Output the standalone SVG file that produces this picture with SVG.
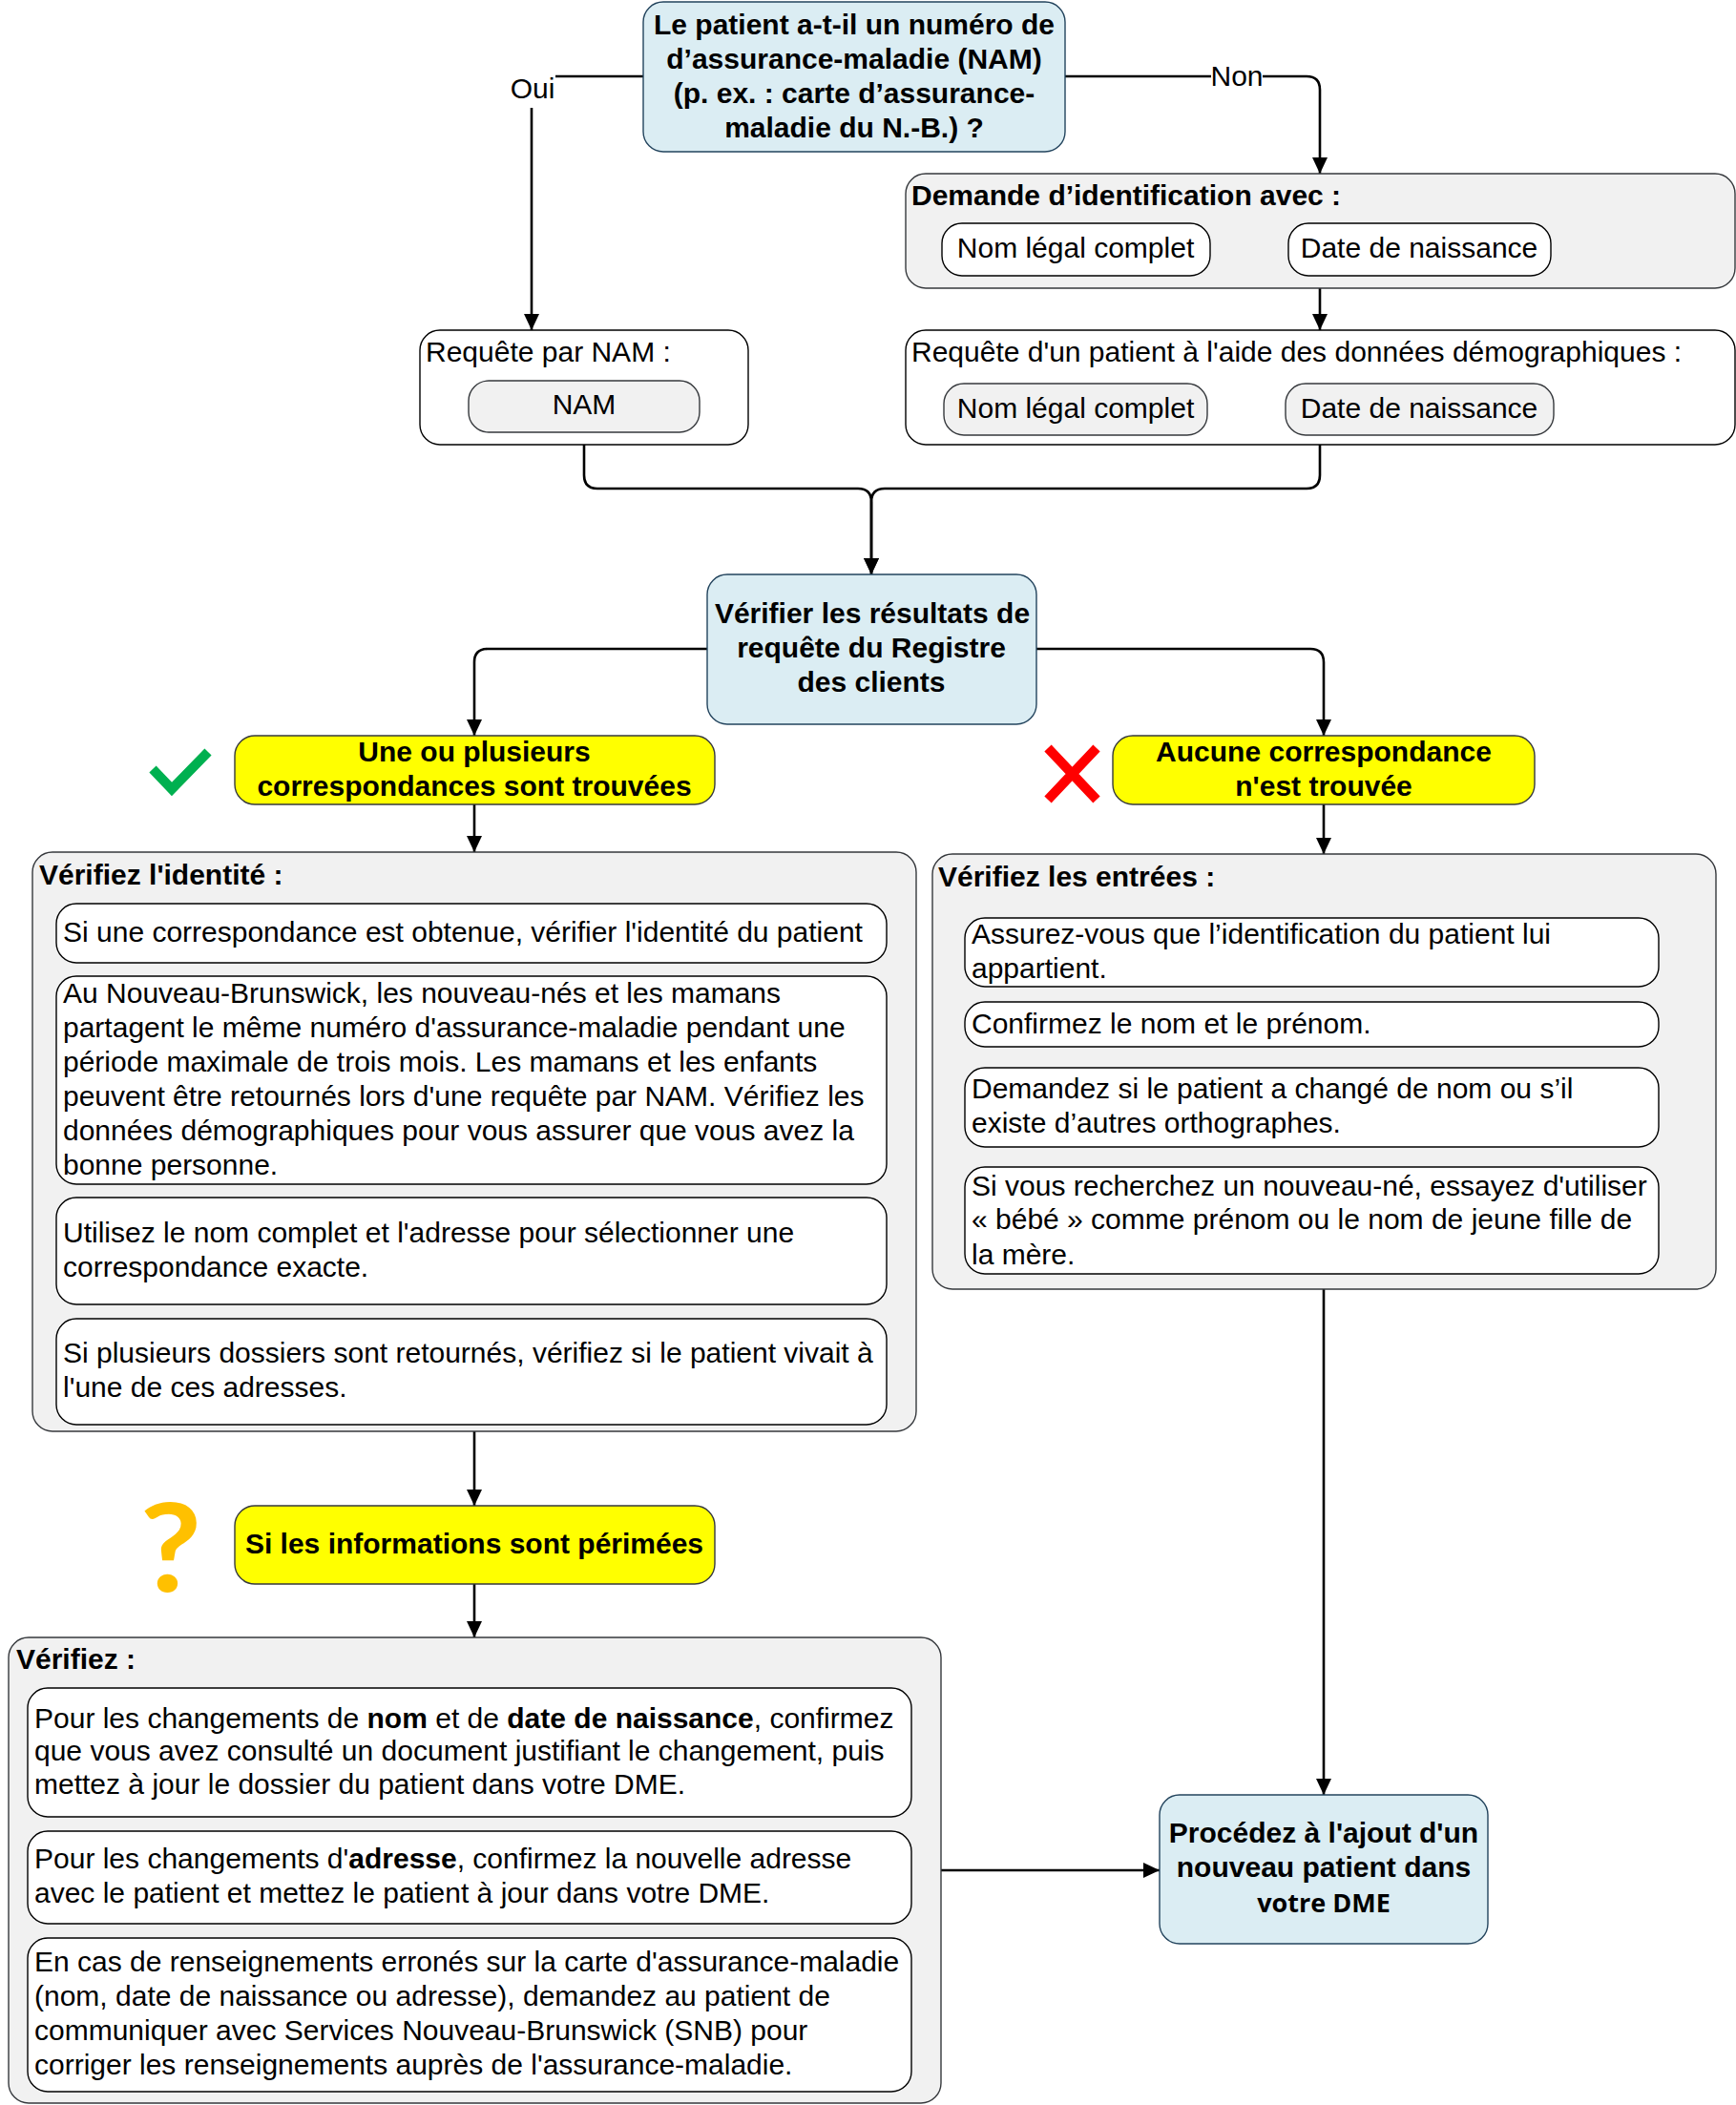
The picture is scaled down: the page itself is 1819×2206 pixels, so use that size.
<svg xmlns="http://www.w3.org/2000/svg" width="1819" height="2206" viewBox="0 0 1819 2206">
<style>
text{font-family:"Liberation Sans",Arial,sans-serif;font-size:30px;fill:#000}
.b{font-weight:bold}
.c{text-anchor:middle}
.blue{fill:#dbedf3;stroke:#23445d;stroke-width:1.4}
.gray{fill:#f1f1f1;stroke:#36393d;stroke-width:1.4}
.white{fill:#fff;stroke:#000;stroke-width:1.4}
.yel{fill:#ffff00;stroke:#36393d;stroke-width:1.4}
.con{fill:none;stroke:#000;stroke-width:2.6}
</style>
<defs><marker id="a" markerUnits="userSpaceOnUse" markerWidth="17" markerHeight="18" refX="17" refY="9" orient="auto"><path d="M0 1L17 9L0 17Z" fill="#000"/></marker></defs>
<g id="connectors">
<path class="con" d="M674 80H581Q557 80 557 104V346" marker-end="url(#a)"/>
<path class="con" d="M1116 80H1369Q1383 80 1383 94V182" marker-end="url(#a)"/>
<path class="con" d="M1383 302V346" marker-end="url(#a)"/>
<path class="con" d="M612 466V498Q612 512 626 512H899Q913 512 913 526V602" marker-end="url(#a)"/>
<path class="con" d="M1383 466V498Q1383 512 1369 512H927Q913 512 913 526V602" marker-end="url(#a)"/>
<path class="con" d="M741 680H511Q497 680 497 694V771" marker-end="url(#a)"/>
<path class="con" d="M1086 680H1373Q1387 680 1387 694V771" marker-end="url(#a)"/>
<path class="con" d="M497 843V893" marker-end="url(#a)"/>
<path class="con" d="M1387 843V895" marker-end="url(#a)"/>
<path class="con" d="M497 1500V1578" marker-end="url(#a)"/>
<path class="con" d="M497 1660V1716" marker-end="url(#a)"/>
<path class="con" d="M1387 1351V1881" marker-end="url(#a)"/>
<path class="con" d="M985 1960H1215" marker-end="url(#a)"/>
<rect x="534" y="76" width="48" height="37" fill="#fff"/>
<rect x="1269" y="62" width="54" height="36" fill="#fff"/>
<text x="558" y="103" class="c">Oui</text>
<text x="1296" y="90" class="c">Non</text>
</g>
<g id="n-question"><rect class="blue" x="674" y="2" width="442" height="157" rx="21"/>
<text class="b c" x="895" y="36">Le patient a-t-il un numéro de</text><text class="b c" x="895" y="72">d’assurance-maladie (NAM)</text><text class="b c" x="895" y="108">(p. ex. : carte d’assurance-</text><text class="b c" x="895" y="144">maladie du N.-B.) ?</text></g>
<g id="n-demande"><rect class="gray" x="949" y="182" width="869" height="120" rx="21"/>
<text class="b" x="955" y="215">Demande d’identification avec :</text>
<rect class="white" x="987" y="234" width="281" height="55" rx="21"/><text class="c" x="1127" y="270">Nom légal complet</text>
<rect class="white" x="1350" y="234" width="275" height="55" rx="21"/><text class="c" x="1487" y="270">Date de naissance</text></g>
<g id="n-requete-nam"><rect class="white" x="440" y="346" width="344" height="120" rx="21"/>
<text x="446" y="379">Requête par NAM :</text>
<rect class="gray" x="491" y="399" width="242" height="54" rx="21"/><text class="c" x="612" y="434">NAM</text></g>
<g id="n-requete-demo"><rect class="white" x="949" y="346" width="869" height="120" rx="21"/>
<text x="955" y="379">Requête d'un patient à l'aide des données démographiques :</text>
<rect class="gray" x="989" y="402" width="276" height="54" rx="21"/><text class="c" x="1127" y="438">Nom légal complet</text>
<rect class="gray" x="1347" y="402" width="281" height="54" rx="21"/><text class="c" x="1487" y="438">Date de naissance</text></g>
<g id="n-verifier"><rect class="blue" x="741" y="602" width="345" height="157" rx="21"/>
<text class="b c" x="914" y="653">Vérifier les résultats de</text><text class="b c" x="913" y="689">requête du Registre</text><text class="b c" x="913" y="725">des clients</text></g>
<g id="i-check"><path d="M160 806L180 827L218 788" fill="none" stroke="#00b050" stroke-width="10"/></g>
<g id="n-trouvees"><rect class="yel" x="246" y="771" width="503" height="72" rx="21"/>
<text class="b c" x="497" y="798">Une ou plusieurs</text><text class="b c" x="497" y="834">correspondances sont trouvées</text></g>
<g id="i-cross"><path d="M1098 784L1149 838M1149 784L1098 838" stroke="#f00" stroke-width="10" fill="none"/></g>
<g id="n-aucune"><rect class="yel" x="1166" y="771" width="442" height="72" rx="21"/>
<text class="b c" x="1387" y="798">Aucune correspondance</text><text class="b c" x="1387" y="834">n'est trouvée</text></g>
<g id="n-identite"><rect class="gray" x="34" y="893" width="926" height="607" rx="21"/>
<text class="b" x="41" y="927">Vérifiez l'identité :</text>
<rect class="white" x="59" y="947" width="870" height="62" rx="21"/><text x="66" y="987">Si une correspondance est obtenue, vérifier l'identité du patient</text>
<rect class="white" x="59" y="1023" width="870" height="218" rx="21"/>
<text x="66" y="1051">Au Nouveau-Brunswick, les nouveau-nés et les mamans</text>
<text x="66" y="1087">partagent le même numéro d'assurance-maladie pendant une</text>
<text x="66" y="1123">période maximale de trois mois. Les mamans et les enfants</text>
<text x="66" y="1159">peuvent être retournés lors d'une requête par NAM. Vérifiez les</text>
<text x="66" y="1195">données démographiques pour vous assurer que vous avez la</text>
<text x="66" y="1231">bonne personne.</text>
<rect class="white" x="59" y="1255" width="870" height="112" rx="21"/>
<text x="66" y="1302">Utilisez le nom complet et l'adresse pour sélectionner une</text><text x="66" y="1338">correspondance exacte.</text>
<rect class="white" x="59" y="1382" width="870" height="111" rx="21"/>
<text x="66" y="1428">Si plusieurs dossiers sont retournés, vérifiez si le patient vivait à</text><text x="66" y="1464">l'une de ces adresses.</text></g>
<g id="n-entrees"><rect class="gray" x="977" y="895" width="821" height="456" rx="21"/>
<text class="b" x="983" y="929">Vérifiez les entrées :</text>
<rect class="white" x="1011" y="962" width="727" height="72" rx="21"/>
<text x="1018" y="989">Assurez-vous que l’identification du patient lui</text><text x="1018" y="1025">appartient.</text>
<rect class="white" x="1011" y="1050" width="727" height="47" rx="21"/><text x="1018" y="1083">Confirmez le nom et le prénom.</text>
<rect class="white" x="1011" y="1119" width="727" height="83" rx="21"/>
<text x="1018" y="1151">Demandez si le patient a changé de nom ou s’il</text><text x="1018" y="1187">existe d’autres orthographes.</text>
<rect class="white" x="1011" y="1223" width="727" height="112" rx="21"/>
<text x="1018" y="1253">Si vous recherchez un nouveau-né, essayez d'utiliser</text><text x="1018" y="1288">« bébé » comme prénom ou le nom de jeune fille de</text><text x="1018" y="1325">la mère.</text></g>
<g id="i-question"><text x="179" y="1668" class="b c" style="font-family:Lato,sans-serif;font-size:128px;fill:#ffc000" transform="translate(179 0) scale(1.1 1) translate(-179 0)">?</text></g>
<g id="n-perimees"><rect class="yel" x="246" y="1578" width="503" height="82" rx="21"/><text class="b c" x="497" y="1628">Si les informations sont périmées</text></g>
<g id="n-verifiez"><rect class="gray" x="9" y="1716" width="977" height="488" rx="21"/>
<text class="b" x="17" y="1749">Vérifiez :</text>
<rect class="white" x="29" y="1769" width="926" height="135" rx="21"/>
<text x="36" y="1811">Pour les changements de <tspan class="b">nom</tspan> et de <tspan class="b">date de naissance</tspan>, confirmez</text>
<text x="36" y="1845">que vous avez consulté un document justifiant le changement, puis</text>
<text x="36" y="1880">mettez à jour le dossier du patient dans votre DME.</text>
<rect class="white" x="29" y="1919" width="926" height="97" rx="21"/>
<text x="36" y="1958">Pour les changements d'<tspan class="b">adresse</tspan>, confirmez la nouvelle adresse</text>
<text x="36" y="1994">avec le patient et mettez le patient à jour dans votre DME.</text>
<rect class="white" x="29" y="2031" width="926" height="161" rx="21"/>
<text x="36" y="2066">En cas de renseignements erronés sur la carte d'assurance-maladie</text>
<text x="36" y="2102">(nom, date de naissance ou adresse), demandez au patient de</text>
<text x="36" y="2138">communiquer avec Services Nouveau-Brunswick (SNB) pour</text>
<text x="36" y="2174">corriger les renseignements auprès de l'assurance-maladie.</text></g>
<g id="n-ajout"><rect class="blue" x="1215" y="1881" width="344" height="156" rx="21"/>
<text class="b c" x="1387" y="1931">Procédez à l'ajout d'un</text><text class="b c" x="1387" y="1967">nouveau patient dans</text><text class="b c" x="1387" y="2004" style="font-family:'Open Sans',sans-serif;font-size:27px">votre DME</text></g>
</svg>
